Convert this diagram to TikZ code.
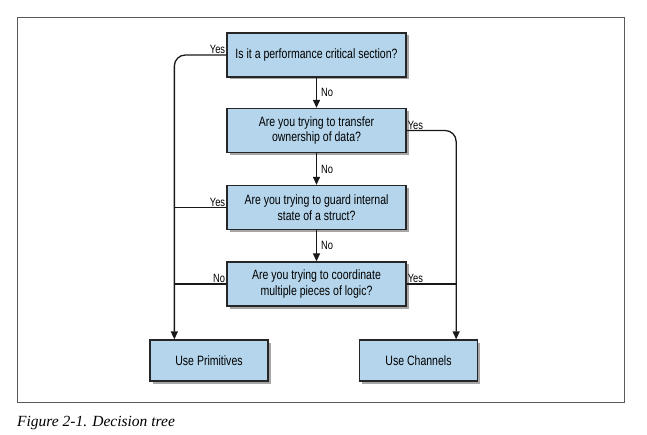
\documentclass[tikz,border=0pt]{standalone}
\usepackage{fontspec}
\setmainfont{Liberation Sans}
\newfontfamily\condfont{Liberation Sans}[FakeStretch=0.78]
\newfontfamily\capfont{Liberation Serif}
\usetikzlibrary{arrows.meta,shadows}
\definecolor{boxblue}{RGB}{180,213,235}
\begin{document}
\begin{tikzpicture}[x=1pt,y=-1pt,
  box/.style={draw=black!85, line width=1.3pt, fill=boxblue, align=center,
    inner sep=0pt, font=\condfont\fontsize{13.5}{15.5}\selectfont,
    drop shadow={shadow xshift=2.5pt, shadow yshift=-2.5pt, fill=black, opacity=0.35}},
  qbox/.style={box, minimum width=179pt, minimum height=44pt},
  ebox/.style={box, minimum width=118pt, minimum height=41pt},
  conn/.style={draw=black!90, line width=1.3pt},
  arr/.style={conn, -{Triangle[length=8pt,width=7pt]}},
  lbl/.style={font=\condfont\fontsize{12}{13}\selectfont, inner sep=1pt}]
\useasboundingbox (0,0) rectangle (647,435);
\draw[black!65, line width=0.8pt] (17,17) rectangle (624,402);

\node[qbox] (b1) at (316.5,55) {Is it a performance critical section?};
\node[qbox] (b2) at (316.5,130.5) {Are you trying to transfer\\ownership of data?};
\node[qbox] (b3) at (316.5,207.5) {Are you trying to guard internal\\state of a struct?};
\node[qbox] (b4) at (316.5,284) {Are you trying to coordinate\\multiple pieces of logic?};
\node[ebox] (prim) at (209,360.5) {Use Primitives};
\node[ebox] (chan) at (418.5,360.5) {Use Channels};

\coordinate (pl) at ([xshift=25pt]prim.north west);
\coordinate (pr) at ([xshift=-22pt]chan.north east);

\draw[arr] (b1) -- node[lbl, right=3pt] {No} (b2);
\draw[arr] (b2) -- node[lbl, right=3pt] {No} (b3);
\draw[arr] (b3) -- node[lbl, right=3pt] {No} (b4);

\draw[arr, rounded corners=11pt] (b1.west) -| (pl);
\draw[arr, rounded corners=11pt] (b2.east) -| (pr);
\draw[conn] (b3.west) -- (b3.west -| pl);
\draw[conn] (b4.west) -- (b4.west -| pl);
\draw[conn] (b4.east) -- (b4.east -| pr);

\node[lbl, anchor=south east] at (b1.west) {Yes};
\node[lbl, anchor=south west] at (b2.east) {Yes};
\node[lbl, anchor=south east] at (b3.west) {Yes};
\node[lbl, anchor=south east] at (b4.west) {No};
\node[lbl, anchor=south west] at (b4.east) {Yes};

\node[anchor=base west, inner sep=0pt, font=\capfont\itshape\fontsize{15.5}{18}\selectfont] (cap) at (17,426) {Figure 2-1. Decision tree};
\end{tikzpicture}
\end{document}
